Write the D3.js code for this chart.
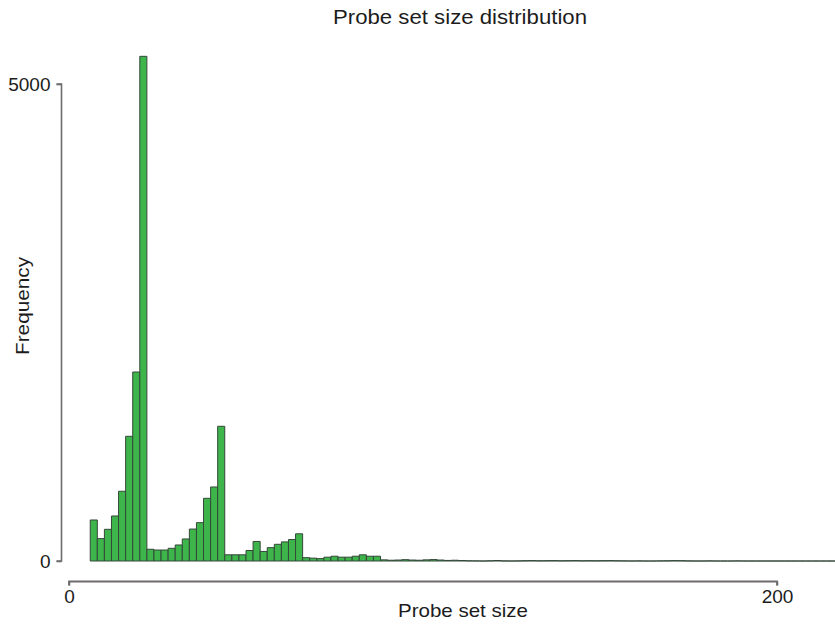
<!DOCTYPE html>
<html>
<head>
<meta charset="utf-8">
<script src="https://cdn.jsdelivr.net/npm/d3@7"></script>
<style>
  html, body { margin: 0; padding: 0; background: #fff; }
  svg { display: block; font-family: "Liberation Sans", Arial, Helvetica, sans-serif; }
</style>
</head>
<body>
<svg id="chart" width="835" height="625"></svg>
<script>
// Histogram of probe set sizes: bins of width 2 starting at size 6
const binStart = 6;
const binWidth = 2;
const counts = [
  430, 235, 332, 472, 731, 1307, 1981, 5290,       // 6 – 20
  123, 115, 115, 133, 168, 231, 335, 402, 657, 776, 1412, // 22 – 42
  65, 65, 65, 110, 205, 100, 140, 175, 200, 225, 285,     // 44 – 64
  35, 30, 25, 40, 50, 40, 40, 50, 65, 50, 50,             // 66 – 86
  12, 8, 10, 14, 10, 8, 12, 15, 10, 6, 8, 5,              // 88 – 110
  2, 1, 0, 2, 5, 1, 0, 1, 3, 4, 2, 3, 4, 2, 3, 4, 2, 3, 2, 3, 4, 2, // 112 – 154
  1, 0, 1, 0, 0, 1, 2, 4, 3, 1, 0, 0, 1, 0, 0, 0, 1,      // 156 – 188
  0, 0, 0, 0, 0, 0, 0, 0, 0, 0, 0, 0, 0, 0                // 190 – 216
];
const xTicks = [0, 200];
const yTicks = [0, 5000];

const titleText = "Probe set size distribution";
const xLabel = "Probe set size";
const yLabel = "Frequency";

const bins = counts.map((c, i) => ({
  x0: binStart + i * binWidth,
  x1: binStart + (i + 1) * binWidth,
  count: c
}));

const svg = d3.select("#chart");

const x = d3.scaleLinear().domain([0, 200]).range([69, 777]);
const y = d3.scaleLinear().domain([0, 5000]).range([561, 84]);

const axisColor = "#6f6b6b";
const textColor = "#1c1c1c";

// bars as closed paths, so empty bins still show as a flat outline
svg.append("g")
  .selectAll("path")
  .data(bins)
  .join("path")
  .attr("d", d => {
    const p = d3.path();
    p.moveTo(x(d.x0), y(0));
    p.lineTo(x(d.x0), y(d.count));
    p.lineTo(x(d.x1), y(d.count));
    p.lineTo(x(d.x1), y(0));
    p.closePath();
    return p.toString();
  })
  .attr("fill", "#3db54a")
  .attr("stroke", "#34473a")
  .attr("stroke-width", 1);

// y axis
const yAxis = d3.axisLeft(y).tickValues(yTicks).tickSize(5).tickPadding(6).tickFormat(d3.format("d"));
const gy = svg.append("g").attr("transform", "translate(61.5,0)").call(yAxis);
gy.select(".domain").attr("stroke", axisColor).attr("stroke-width", 1.6)
  .attr("d", `M-5,${y(5000)}H0V${y(0)}H-5`);
gy.selectAll(".tick line").attr("stroke", axisColor).attr("stroke-width", 1.6);
gy.selectAll(".tick text")
  .attr("fill", textColor)
  .style("font-size", "19px")
  .style("font-family", "'Liberation Sans', Arial, sans-serif");

// x axis
const xAxis = d3.axisBottom(x).tickValues(xTicks).tickSize(4).tickPadding(4).tickFormat(d3.format("d"));
const gx = svg.append("g").attr("transform", "translate(0,581.5)").call(xAxis);
gx.select(".domain").attr("stroke", axisColor).attr("stroke-width", 1.8)
  .attr("d", `M${x(0)},4V0H${x(200)}V4`);
gx.selectAll(".tick line").attr("stroke", axisColor).attr("stroke-width", 1.6);
gx.selectAll(".tick text")
  .attr("fill", textColor)
  .style("font-size", "19px")
  .style("font-family", "'Liberation Sans', Arial, sans-serif");

// title and axis titles
svg.append("text")
  .attr("x", 460).attr("y", 24)
  .attr("text-anchor", "middle")
  .attr("fill", textColor)
  .attr("textLength", 254)
  .attr("lengthAdjust", "spacingAndGlyphs")
  .style("font-size", "20px")
  .text(titleText);

svg.append("text")
  .attr("x", 463).attr("y", 617)
  .attr("text-anchor", "middle")
  .attr("fill", textColor)
  .attr("textLength", 130)
  .attr("lengthAdjust", "spacingAndGlyphs")
  .style("font-size", "19px")
  .text(xLabel);

svg.append("text")
  .attr("transform", "translate(29,306) rotate(-90)")
  .attr("text-anchor", "middle")
  .attr("fill", textColor)
  .attr("textLength", 98)
  .attr("lengthAdjust", "spacingAndGlyphs")
  .style("font-size", "19px")
  .text(yLabel);
</script>
</body>
</html>
